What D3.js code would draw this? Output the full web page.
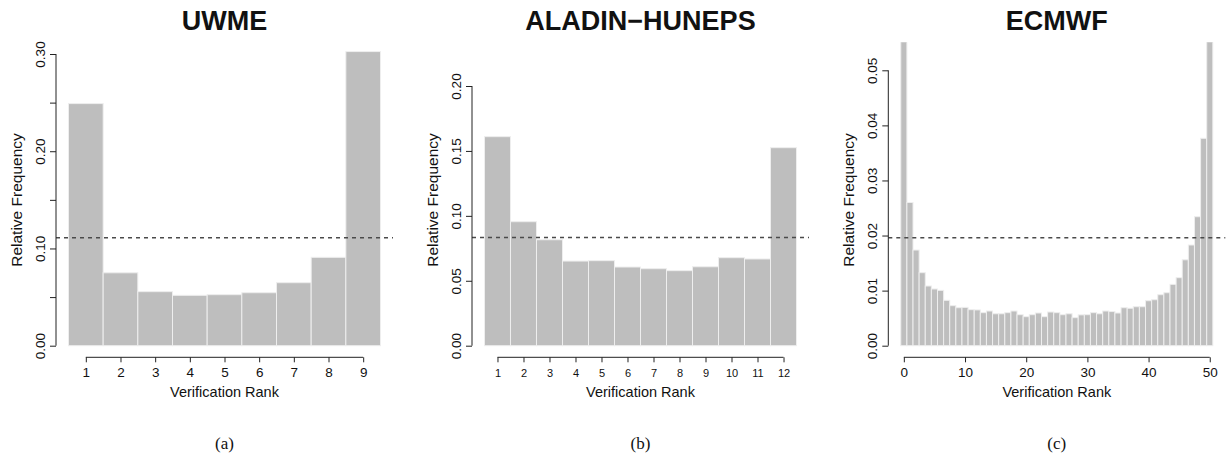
<!DOCTYPE html>
<html>
<head>
<meta charset="utf-8">
<script src="https://cdn.jsdelivr.net/npm/d3@7"></script>
<style>
  body { margin: 0; background: #fff; }
  svg text { font-family: "Liberation Sans", Arial, Helvetica, sans-serif; fill: #111; }
</style>
</head>
<body>
<svg id="chart" width="1228" height="463"></svg>
<script>
// rank histograms, relative frequency
const uwmeRanks = [1, 2, 3, 4, 5, 6, 7, 8, 9];
const uwmeFreq = [0.249, 0.075, 0.0556, 0.0518, 0.0525, 0.0545, 0.0648, 0.0909, 0.3025];

const aladinRanks = [1, 2, 3, 4, 5, 6, 7, 8, 9, 10, 11, 12];
const aladinFreq = [0.161, 0.0955, 0.0816, 0.0652, 0.0655, 0.0606, 0.0593, 0.0578,
  0.0608, 0.0678, 0.0668, 0.1525];

const ecmwfRanks = d3.range(0, 51);
const ecmwfFreq = [0.26, 0.026, 0.01737, 0.01326, 0.01084, 0.0103, 0.01005, 0.00824,
  0.00727, 0.0069, 0.00696, 0.00654, 0.0065, 0.006, 0.0063, 0.0058, 0.0058, 0.006,
  0.0063, 0.00563, 0.00527, 0.00563, 0.00594, 0.00527, 0.00612, 0.006, 0.00563,
  0.0058, 0.00509, 0.0056, 0.00563, 0.006, 0.0058, 0.0063, 0.0062, 0.00594, 0.0069,
  0.0068, 0.00708, 0.00708, 0.00817, 0.00835, 0.00926, 0.00962, 0.01114, 0.01235,
  0.0156, 0.01828, 0.02342, 0.03765, 0.294];

// dashed reference level (uniform frequency)
const uniformLevel = [0.111, 0.0833, 0.0196];

const titles = ["UWME", "ALADIN\u2212HUNEPS", "ECMWF"];
const captions = ["(a)", "(b)", "(c)"];

const uwmeYTicks = [0, 0.05, 0.1, 0.15, 0.2, 0.25, 0.3];
const aladinYTicks = [0, 0.05, 0.1, 0.15, 0.2];
const ecmwfYTicks = [0, 0.01, 0.02, 0.03, 0.04, 0.05];
const ecmwfXTicks = [0, 10, 20, 30, 40, 50];

const svg = d3.select("#chart");
const baseY = 345.7;
const axisY = 357.3;
const plotWidth = 337;
const barColor = "#bebebe";

const panels = [
  {
    left: 56, ranks: uwmeRanks, freq: uwmeFreq, yTicks: uwmeYTicks, yMax: 0.3, yTop: 54,
    xTicks: uwmeRanks, labelEvery: 0.1, xFont: 13.5, xPad: 5, plotTop: 30,
  },
  {
    left: 472, ranks: aladinRanks, freq: aladinFreq, yTicks: aladinYTicks, yMax: 0.2, yTop: 86,
    xTicks: aladinRanks, labelEvery: 0.05, xFont: 11, xPad: 7, plotTop: 30,
  },
  {
    left: 888.3, ranks: ecmwfRanks, freq: ecmwfFreq, yTicks: ecmwfYTicks, yMax: 0.05, yTop: 70.3,
    xTicks: ecmwfXTicks, labelEvery: 0.01, xFont: 13.5, xPad: 5, plotTop: 42.3,
  },
];

panels.forEach((p, i) => {
  const n = p.ranks.length;
  const lo = p.ranks[0] - 0.5 - 0.04 * n;
  const hi = p.ranks[n - 1] + 0.5 + 0.04 * n;
  const x = d3.scaleLinear().domain([lo, hi]).range([p.left, p.left + plotWidth]);
  const y = d3.scaleLinear().domain([0, p.yMax]).range([baseY, p.yTop]);
  const cx = x((p.ranks[0] + p.ranks[n - 1]) / 2);

  const g = svg.append("g").attr("class", "panel");

  svg.append("clipPath")
    .attr("id", "clip" + i)
    .append("rect")
    .attr("x", p.left)
    .attr("y", p.plotTop)
    .attr("width", plotWidth)
    .attr("height", baseY + 10 - p.plotTop);

  // bars
  g.append("g")
    .attr("clip-path", `url(#clip${i})`)
    .selectAll("rect")
    .data(p.ranks.map((r, k) => ({ rank: r, value: p.freq[k] })))
    .join("rect")
    .attr("x", (d) => x(d.rank - 0.5))
    .attr("width", (d) => x(d.rank + 0.5) - x(d.rank - 0.5))
    .attr("y", (d) => y(d.value))
    .attr("height", (d) => y(0) - y(d.value))
    .attr("fill", barColor)
    .attr("stroke", "#eeeeee")
    .attr("stroke-width", 1);

  // dashed uniform line
  g.append("line")
    .attr("x1", p.left)
    .attr("x2", p.left + plotWidth)
    .attr("y1", y(uniformLevel[i]))
    .attr("y2", y(uniformLevel[i]))
    .attr("stroke", "#4a4a4a")
    .attr("stroke-width", 1.5)
    .attr("stroke-dasharray", "4,4");

  // y axis
  const yAxis = d3.axisLeft(y)
    .tickValues(p.yTicks)
    .tickSize(6)
    .tickFormat((d) => {
      const k = Math.round(d / p.labelEvery);
      return Math.abs(k * p.labelEvery - d) < 1e-9 ? d3.format(".2f")(d) : "";
    });
  const yg = g.append("g")
    .attr("transform", `translate(${p.left},0)`)
    .call(yAxis);
  yg.select(".domain").remove();
  yg.selectAll("line").attr("stroke", "#222");
  yg.selectAll("text")
    .attr("x", 0)
    .attr("dy", "0.35em")
    .attr("transform", "translate(-16,0) rotate(-90)")
    .attr("text-anchor", "middle")
    .attr("font-size", 13.5)
    .attr("fill", "#111");
  yg.append("line")
    .attr("y1", y(p.yTicks[0]))
    .attr("y2", y(p.yTicks[p.yTicks.length - 1]))
    .attr("stroke", "#222");

  // x axis
  const xAxis = d3.axisBottom(x)
    .tickValues(p.xTicks)
    .tickSize(5)
    .tickPadding(p.xPad)
    .tickFormat(d3.format("d"));
  const xg = g.append("g")
    .attr("transform", `translate(0,${axisY})`)
    .call(xAxis);
  xg.select(".domain").remove();
  xg.selectAll("line").attr("stroke", "#222");
  xg.selectAll("text").attr("font-size", p.xFont).attr("fill", "#111");
  xg.append("line")
    .attr("x1", x(p.xTicks[0]))
    .attr("x2", x(p.xTicks[p.xTicks.length - 1]))
    .attr("stroke", "#222");

  // labels
  g.append("text")
    .attr("x", cx)
    .attr("y", 30)
    .attr("text-anchor", "middle")
    .attr("font-size", 27)
    .attr("font-weight", "bold")
    .attr("fill", "#000")
    .text(titles[i]);

  g.append("text")
    .attr("transform", `translate(${p.left - 39.5},200) rotate(-90)`)
    .attr("dy", "0.35em")
    .attr("text-anchor", "middle")
    .attr("font-size", 15.5)
    .text("Relative Frequency");

  g.append("text")
    .attr("x", cx)
    .attr("y", 397)
    .attr("text-anchor", "middle")
    .attr("font-size", 14.5)
    .text("Verification Rank");

  g.append("text")
    .attr("x", cx)
    .attr("y", 449)
    .attr("text-anchor", "middle")
    .attr("font-size", 17)
    .style("font-family", "'Liberation Serif', 'DejaVu Serif', serif")
    .text(captions[i]);
});
</script>
</body>
</html>
